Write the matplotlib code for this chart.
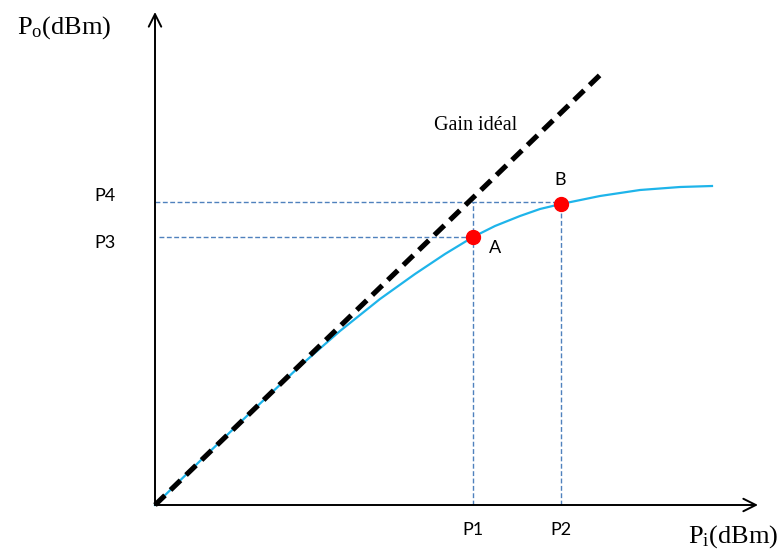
import numpy as np
import matplotlib.pyplot as plt

plt.rcParams['mathtext.fontset'] = 'custom'
plt.rcParams['mathtext.rm'] = 'Liberation Serif'

# curve (input power vs output power, arbitrary units)
pin = [0, 45, 95, 145, 185, 225, 260, 290, 318, 340, 365, 385, 406, 445, 485, 525, 557]
pout = [0, 44, 92, 139, 174, 206, 231, 251, 268, 279, 289, 296, 301, 309, 315, 318, 319]

# ideal gain line end points
ideal_x = [0, 445]
ideal_y = [0, 430]

# operating points
pt_names = ['A', 'B']
pt_x = [318, 406]
pt_y = [268, 301]

P1, P2 = 318, 406
P3, P4 = 268, 303

fig = plt.figure(figsize=(7.81, 5.5), dpi=100)
ax = fig.add_axes([0, 0, 1, 1])
ax.set_xlim(-155, 626)
ax.set_ylim(-45, 505)
ax.axis('off')

guide = dict(color='#4f81bd', lw=1.0, dashes=(3.5, 1.8))
ax.plot([0, pt_x[1]], [P4, P4], **guide)
ax.plot([4, pt_x[0]], [P3, P3], **guide)
ax.plot([P1, P1], [0, P4], **guide)
ax.plot([P2, P2], [0, pt_y[1]], **guide)

ax.plot(pin, pout, color='#1eb4ea', lw=1.6, zorder=3, solid_joinstyle='round')
ax.plot(ideal_x, ideal_y, color='black', lw=3.7, dashes=(2.7, 1.5), zorder=4)
ax.plot(pt_x, pt_y, 'o', color='red', ms=10, zorder=5)

# axes with open arrow heads
arrow = dict(arrowstyle='->, head_length=0.9, head_width=0.45', color='black', lw=1.4,
             shrinkA=0, shrinkB=0)
ax.annotate('', xy=(0, 493), xytext=(0, 0), arrowprops=arrow)
ax.annotate('', xy=(603, 0), xytext=(0, 0), arrowprops=arrow)

lab = dict(fontsize=13, family='Lato', ha='center', va='center')
ax.text(-50, 309, 'P4', **lab)
ax.text(-50, 262, 'P3', **lab)
ax.text(P1, -25, 'P1', **lab)
ax.text(P2, -25, 'P2', **lab)
ax.text(340, 257, pt_names[0], **lab)
ax.text(405, 325, pt_names[1], **lab)

ax.text(321, 380, 'Gain idéal', fontsize=14.5, family='Liberation Serif', ha='center', va='center')
ax.text(-91, 477, r'$\mathrm{P_o(dBm)}$', fontsize=19, ha='center', va='center')
ax.text(578, -32, r'$\mathrm{P_i(dBm)}$', fontsize=19, ha='center', va='center')

fig.savefig('out.png', dpi=100)
